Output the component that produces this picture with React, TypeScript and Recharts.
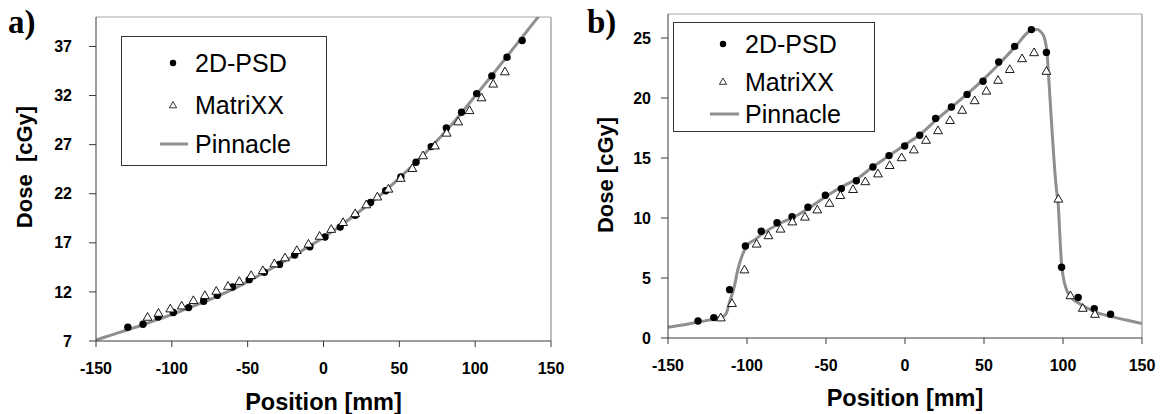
import React from 'react';
import { ComposedChart, Line, Scatter, XAxis, YAxis, ReferenceLine, Legend } from 'recharts';

const FONT = "'Liberation Sans', Arial, Helvetica, sans-serif";
const SERIF = "'Liberation Serif', 'Times New Roman', serif";

// ---------- panel a ----------
const psdAx = [-129, -119, -109, -99, -89, -79, -70, -60, -49, -39, -29, -19, -9, 1, 11, 21, 31, 41, 51, 61, 71, 81, 91, 101, 111, 121, 131];
const psdAy = [8.4, 8.7, 9.45, 9.9, 10.4, 11.05, 11.65, 12.5, 13.25, 14.0, 14.8, 15.75, 16.6, 17.6, 18.6, 19.8, 21.1, 22.3, 23.7, 25.2, 26.8, 28.7, 30.3, 32.2, 34.0, 35.9, 37.6];

const mxAx = [-116, -108.8, -101, -93.5, -85.8, -78.2, -70.7, -63, -55.5, -47.7, -40, -32.4, -25.4, -17.6, -9.9, -2.6, 5.1, 12.9, 20.9, 28.2, 35.5, 42.8, 50.9, 58.6, 65.6, 73.5, 81.2, 88.8, 96.3, 104.2, 111.9, 119.6];
const mxAy = [9.45, 9.86, 10.3, 10.6, 11.15, 11.66, 12.1, 12.6, 13.1, 13.7, 14.2, 14.9, 15.5, 16.25, 16.9, 17.7, 18.4, 19.1, 20.0, 20.9, 21.7, 22.5, 23.6, 24.6, 25.9, 26.9, 28.2, 29.35, 30.5, 31.8, 33.2, 34.45];

const pinAx = [-150, -140, -130, -120, -110, -100, -90, -80, -70, -60, -50, -40, -30, -20, -10, 0, 10, 20, 30, 40, 50, 60, 70, 80, 90, 100, 110, 120, 130, 140, 143];
const pinAy = [7.1, 7.6, 8.1, 8.6, 9.15, 9.7, 10.3, 10.9, 11.55, 12.25, 13.05, 13.9, 14.75, 15.65, 16.6, 17.55, 18.6, 19.75, 20.95, 22.2, 23.6, 25.05, 26.6, 28.25, 30.05, 31.95, 33.85, 35.8, 37.75, 39.7, 40.3];

const yTicksA = [7, 12, 17, 22, 27, 32, 37];

// ---------- panel b ----------
const psdBx = [-131, -121, -111, -101, -91, -81, -71.5, -61.4, -50.4, -40.3, -30.8, -20.3, -10.1, -0.2, 9.3, 19.4, 29.4, 39.3, 49.4, 59.3, 69.4, 80, 89.5, 99.1, 109.6, 119.8, 130.1];
const psdBy = [1.42, 1.7, 4.03, 7.67, 8.9, 9.6, 10.1, 10.9, 11.9, 12.45, 13.1, 14.25, 15.2, 16.0, 16.9, 18.3, 19.25, 20.3, 21.4, 23.0, 24.3, 25.7, 23.8, 5.9, 3.37, 2.45, 1.98];

const mxBx = [-116.6, -109.5, -101.6, -93.9, -86.4, -78.8, -71.3, -63.3, -55.5, -47.8, -40.9, -32.9, -25.1, -17.1, -9.7, -2.1, 5.6, 13.3, 20.9, 28.5, 36.2, 44.1, 51.5, 58.9, 66.3, 74.1, 81.7, 89.5, 97.1, 104.7, 112.5, 120.2];
const mxBy = [1.7, 2.9, 5.7, 7.85, 8.55, 9.1, 9.7, 10.1, 10.7, 11.25, 11.9, 12.4, 13.05, 13.7, 14.4, 15.05, 15.7, 16.5, 17.3, 18.15, 19.0, 19.8, 20.6, 21.5, 22.4, 23.3, 23.8, 22.25, 11.6, 3.55, 2.5, 2.0];

const pinBx = [-150, -140, -130, -120, -115, -113, -111, -108, -106, -103, -100, -95, -90, -80, -70, -60, -50, -40, -30, -20, -10, 0, 10, 20, 30, 40, 50, 60, 70, 80, 84, 86, 88, 90, 91, 92, 93, 94, 95, 96, 97, 98, 99, 100, 102, 105, 110, 120, 130, 140, 150];
const pinBy = [0.9, 1.1, 1.35, 1.6, 1.8, 2.1, 3.0, 4.3, 5.6, 6.9, 7.7, 8.2, 8.7, 9.5, 10.1, 10.9, 11.8, 12.6, 13.3, 14.3, 15.2, 16.1, 17.0, 18.2, 19.3, 20.4, 21.6, 22.9, 24.3, 25.65, 25.7, 25.5, 25.1, 23.6, 21.6, 19.5, 17.4, 15.4, 13.6, 12.2, 11.1, 8.6, 6.3, 5.2, 4.1, 3.4, 2.9, 2.2, 1.8, 1.5, 1.2];

const yTicksB = [0, 5, 10, 15, 20, 25];

const xTicks = [-150, -100, -50, 0, 50, 100, 150];
const seriesNames = ['2D-PSD', 'MatriXX', 'Pinnacle'];

const pts = (xs: number[], ys: number[]) => xs.map((x, i) => ({ x, y: ys[i] }));

const LINE_COLOR = '#8f8f8f';
const AXIS_COLOR = '#3a3a3a';
const BORDER_COLOR = '#a8a8a8';

const DotShape = (p: any) => <circle cx={p.cx} cy={p.cy} r={3.7} fill="#000" />;
const TriShape = (p: any) => {
  const s = 4.4;
  const { cx, cy } = p;
  return (
    <path
      d={`M${cx},${cy - s} L${cx + s},${cy + s * 0.75} L${cx - s},${cy + s * 0.75} Z`}
      fill="#fff"
      stroke="#000"
      strokeWidth={0.9}
    />
  );
};

type LegendCfg = { left: number; top: number; w: number; h: number; rows: number[]; markerX: number; lineX1: number; lineX2: number; textX: number };

const makeLegend = (cfg: LegendCfg) => (props: any) => {
  const items = [...(props.payload || [])].sort(
    (a: any, b: any) => seriesNames.indexOf(a.value) - seriesNames.indexOf(b.value)
  );
  return (
    <svg width={cfg.w} height={cfg.h} style={{ display: 'block' }}>
      <rect x={0.5} y={0.5} width={cfg.w - 1} height={cfg.h - 1} fill="#fff" stroke="#333" strokeWidth={1} />
      {items.map((it: any, i: number) => {
        const y = cfg.rows[i];
        let marker;
        if (it.value === '2D-PSD') marker = <circle cx={cfg.markerX} cy={y} r={3.2} fill="#000" />;
        else if (it.value === 'MatriXX')
          marker = (
            <path
              d={`M${cfg.markerX},${y - 3.5} L${cfg.markerX + 3.6},${y + 2.8} L${cfg.markerX - 3.6},${y + 2.8} Z`}
              fill="#fff"
              stroke="#000"
              strokeWidth={0.8}
            />
          );
        else marker = <line x1={cfg.lineX1} x2={cfg.lineX2} y1={y} y2={y} stroke={LINE_COLOR} strokeWidth={3} />;
        return (
          <g key={it.value}>
            {marker}
            <text x={cfg.textX} y={y + 9} fontFamily={FONT} fontSize={25} fill="#000">
              {it.value}
            </text>
          </g>
        );
      })}
    </svg>
  );
};

type PanelProps = {
  width: number;
  margin: { top: number; right: number; bottom: number; left: number };
  yAxisWidth: number;
  xAxisHeight: number;
  yDomain: [number, number];
  yTicks: number[];
  yTickMargin: number;
  psd: { x: number; y: number }[];
  mx: { x: number; y: number }[];
  pin: { x: number; y: number }[];
  legend: LegendCfg;
  yLabel: string;
  yLabelDx: number;
  yLabelDy: number;
  xLabelOffset: number;
};

const tickStyle = { fill: '#000', fontSize: 16, fontWeight: 'bold', fontFamily: FONT };
const yTitleStyle = { fill: '#000', fontSize: 22, fontWeight: 'bold', fontFamily: FONT };
const xTitleStyle = { fill: '#000', fontSize: 23.5, fontWeight: 'bold', fontFamily: FONT };

const Panel = (p: PanelProps) => (
  <ComposedChart width={p.width} height={414} margin={p.margin}>
    <XAxis
      type="number"
      dataKey="x"
      domain={[-150, 150]}
      ticks={xTicks}
      interval={0}
      height={p.xAxisHeight}
      stroke={AXIS_COLOR}
      tickSize={6}
      tickMargin={16}
      tick={tickStyle}
      allowDataOverflow
      label={{ value: 'Position [mm]', position: 'insideBottom', offset: p.xLabelOffset, ...xTitleStyle }}
    />
    <YAxis
      type="number"
      dataKey="y"
      domain={p.yDomain}
      ticks={p.yTicks}
      interval={0}
      width={p.yAxisWidth}
      stroke={AXIS_COLOR}
      tickSize={7}
      tickMargin={p.yTickMargin}
      tick={tickStyle}
      allowDataOverflow
      label={{ value: p.yLabel, angle: -90, position: 'center', dx: p.yLabelDx, dy: p.yLabelDy, ...yTitleStyle }}
    />
    <ReferenceLine y={p.yDomain[1]} stroke={BORDER_COLOR} strokeWidth={1.2} />
    <ReferenceLine x={150} stroke={BORDER_COLOR} strokeWidth={1.5} />
    <Line
      name="Pinnacle"
      data={p.pin}
      dataKey="y"
      type="monotone"
      stroke={LINE_COLOR}
      strokeWidth={3}
      dot={false}
      activeDot={false}
      isAnimationActive={false}
    />
    <Scatter name="2D-PSD" data={p.psd} dataKey="y" shape={DotShape} isAnimationActive={false} />
    <Scatter name="MatriXX" data={p.mx} dataKey="y" shape={TriShape} isAnimationActive={false} />
    <Legend
      layout="horizontal"
      align="center"
      verticalAlign="middle"
      width={p.legend.w}
      height={p.legend.h}
      wrapperStyle={{ left: p.legend.left, top: p.legend.top, width: p.legend.w, height: p.legend.h }}
      content={makeLegend(p.legend)}
    />
  </ComposedChart>
);

export default function App() {
  return (
    <div style={{ position: 'absolute', left: 0, top: 0, width: 1162, height: 414, background: '#fff', overflow: 'hidden' }}>
      <div style={{ position: 'absolute', left: 0, top: 0 }}>
        <Panel
          width={568}
          margin={{ top: 17, right: 17, bottom: 0, left: 0 }}
          yAxisWidth={96}
          xAxisHeight={73}
          yDomain={[7, 40]}
          yTicks={yTicksA}
          yTickMargin={17}
          psd={pts(psdAx, psdAy)}
          mx={pts(mxAx, mxAy)}
          pin={pts(pinAx, pinAy)}
          legend={{ left: 121, top: 36, w: 206, h: 130, rows: [27, 69, 108], markerX: 52, lineX1: 39, lineX2: 67, textX: 74 }}
          yLabel={'Dose\u00a0 [cGy]'}
          yLabelDx={-24}
          yLabelDy={-12}
          xLabelOffset={4}
        />
      </div>
      <div style={{ position: 'absolute', left: 563, top: 0 }}>
        <Panel
          width={599}
          margin={{ top: 14, right: 20, bottom: 0, left: 0 }}
          yAxisWidth={105}
          xAxisHeight={76}
          yDomain={[0, 27]}
          yTicks={yTicksB}
          yTickMargin={10}
          psd={pts(psdBx, psdBy)}
          mx={pts(mxBx, mxBy)}
          pin={pts(pinBx, pinBy)}
          legend={{ left: 110, top: 22, w: 202, h: 110, rows: [22, 59.5, 92], markerX: 50, lineX1: 37, lineX2: 66, textX: 72 }}
          yLabel="Dose [cGy]"
          yLabelDx={-10}
          yLabelDy={-1}
          xLabelOffset={8}
        />
      </div>
      <div style={{ position: 'absolute', left: 8, top: 6, fontFamily: SERIF, fontWeight: 'bold', fontSize: 33, lineHeight: '32px', color: '#000' }}>a)</div>
      <div style={{ position: 'absolute', left: 587, top: 6, fontFamily: SERIF, fontWeight: 'bold', fontSize: 33, lineHeight: '32px', color: '#000' }}>b)</div>
    </div>
  );
}
